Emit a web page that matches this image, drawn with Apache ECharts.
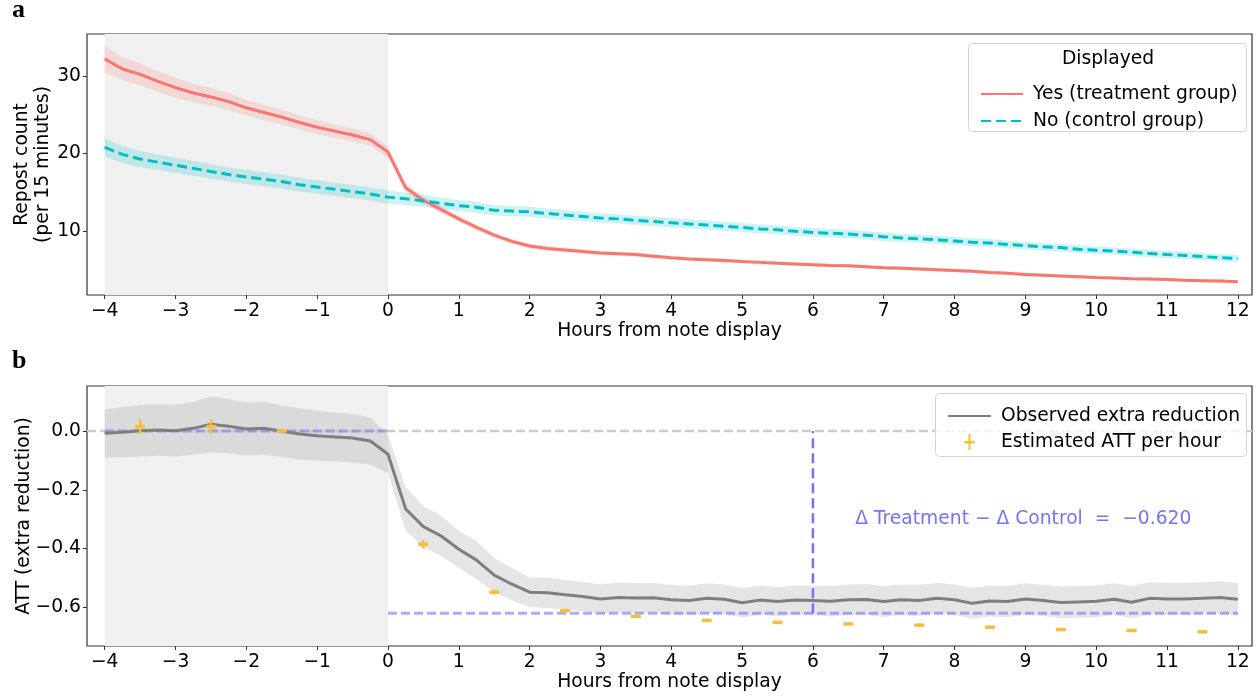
<!DOCTYPE html>
<html><head><meta charset="utf-8">
<script src="https://cdn.jsdelivr.net/npm/echarts@6/dist/echarts.min.js"></script>
<style>html,body{margin:0;padding:0;background:#fff}#c{width:1259px;height:696px}</style>
</head><body><div id="c"></div><script>
// ---------- data ----------
const hours = [-4,-3.75,-3.5,-3.25,-3,-2.75,-2.5,-2.25,-2,-1.75,-1.5,-1.25,-1,-0.75,-0.5,-0.25,
  0,0.25,0.5,0.75,1,1.25,1.5,1.75,2,2.25,2.5,2.75,3,3.25,3.5,3.75,4,4.25,4.5,4.75,5,5.25,5.5,5.75,
  6,6.25,6.5,6.75,7,7.25,7.5,7.75,8,8.25,8.5,8.75,9,9.25,9.5,9.75,10,10.25,10.5,10.75,11,11.25,11.5,11.75,12];
const treatment = [32.2,30.9,30.2,29.3,28.5,27.8,27.3,26.7,25.9,25.3,24.7,24.0,23.4,22.9,22.4,21.8,
  20.2,15.6,14.0,12.8,11.6,10.5,9.5,8.7,8.1,7.8,7.6,7.4,7.2,7.1,7.0,6.8,6.6,6.45,6.35,6.25,6.1,6.0,5.9,5.8,
  5.7,5.6,5.55,5.45,5.3,5.25,5.15,5.05,4.95,4.85,4.7,4.6,4.45,4.35,4.25,4.15,4.05,4.0,3.9,3.85,3.8,3.7,3.65,3.6,3.5];
const treatmentErr = [1.7,1.5,1.4,1.35,1.3,1.2,1.15,1.1,1.0,1.0,0.95,0.9,0.9,0.85,0.85,0.8,
  0.75,0.6,0.5,0.45,0.4,0.38,0.35,0.32,0.3,0.3,0.29,0.28,0.28,0.27,0.27,0.26,0.26,0.25,0.25,0.25,0.24,0.24,0.24,0.23,
  0.23,0.23,0.22,0.22,0.22,0.22,0.21,0.21,0.21,0.21,0.2,0.2,0.2,0.2,0.2,0.2,0.19,0.19,0.19,0.19,0.19,0.19,0.18,0.18,0.18];
const control = [20.8,19.9,19.3,18.9,18.5,18.1,17.7,17.3,17.0,16.7,16.4,16.0,15.7,15.4,15.1,14.8,
  14.4,14.2,13.9,13.6,13.3,13.1,12.7,12.6,12.5,12.3,12.1,11.9,11.7,11.6,11.4,11.25,11.1,10.95,10.8,10.65,10.5,10.3,10.2,10.0,
  9.85,9.75,9.65,9.5,9.3,9.15,9.05,8.9,8.75,8.6,8.5,8.3,8.15,8.0,7.9,7.7,7.55,7.45,7.3,7.15,7.0,6.9,6.75,6.6,6.5];
const controlErr = [1.2,1.1,1.05,1.0,1.0,0.95,0.95,0.9,0.9,0.9,0.88,0.88,0.87,0.86,0.86,0.85,
  0.85,0.8,0.78,0.75,0.72,0.7,0.68,0.66,0.65,0.64,0.63,0.62,0.62,0.61,0.6,0.6,0.6,0.59,0.59,0.58,0.58,0.57,0.57,0.56,
  0.56,0.55,0.55,0.54,0.54,0.53,0.53,0.52,0.52,0.51,0.51,0.5,0.5,0.5,0.49,0.49,0.48,0.48,0.47,0.47,0.46,0.46,0.45,0.45,0.45];
const observedATT = [-0.008,-0.004,0.001,0.003,0.001,0.009,0.023,0.016,0.007,0.009,-0.001,-0.010,-0.016,-0.020,-0.024,-0.034,
  -0.079,-0.265,-0.325,-0.357,-0.402,-0.439,-0.490,-0.521,-0.548,-0.550,-0.557,-0.563,-0.571,-0.566,-0.568,-0.567,
  -0.574,-0.576,-0.569,-0.572,-0.584,-0.575,-0.580,-0.575,-0.576,-0.579,-0.574,-0.573,-0.580,-0.574,-0.576,-0.569,
  -0.574,-0.586,-0.578,-0.580,-0.571,-0.576,-0.583,-0.581,-0.579,-0.572,-0.582,-0.569,-0.571,-0.571,-0.569,-0.566,-0.572];
const observedErr = [0.082,0.085,0.088,0.087,0.088,0.09,0.095,0.092,0.09,0.09,0.088,0.087,0.085,0.083,0.082,0.08,
  0.065,0.074,0.07,0.068,0.062,0.065,0.058,0.055,0.05,0.052,0.05,0.05,0.05,0.051,0.05,0.05,0.05,0.05,0.051,0.05,0.05,0.05,0.05,0.05,
  0.05,0.052,0.052,0.053,0.052,0.052,0.053,0.052,0.052,0.052,0.053,0.053,0.053,0.053,0.054,0.054,0.054,0.054,0.055,0.055,0.055,0.055,0.055,0.055,0.055];
const attHours = [-3.5,-2.5,-1.5,0.5,1.5,2.5,3.5,4.5,5.5,6.5,7.5,8.5,9.5,10.5,11.5];
const attValues = [0.015,0.015,0.0,-0.385,-0.548,-0.611,-0.630,-0.644,-0.651,-0.656,-0.660,-0.667,-0.675,-0.678,-0.683];
const attErr = [0.025,0.025,0.002,0.015,0.008,0.005,0.005,0.004,0.004,0.004,0.004,0.004,0.004,0.004,0.004];
const xTicks = [-4,-3,-2,-1,0,1,2,3,4,5,6,7,8,9,10,11,12];
const yTicksTop = [10,20,30];
const yTicksBottom = [-0.6,-0.4,-0.2,0];
const preStart = -4, preEnd = 0;
const attEstimate = -0.620;
const markHour = 6;
const annotationText = 'Δ Treatment − Δ Control  =  −0.620';
const annotationAt = [8.97, -0.3];

// ---------- style ----------
const RED = '#F8766D', CYAN = '#00BFC4', GRAY = '#7f7f7f', ORANGE = '#F6BE3B', PURPLE = '#7474F4';
const FONT = 'DejaVu Sans';
const FS = 18.7;
const minus = s => String(s).replace('-', '−');

function shade(xi, yi) {
  return { type: 'custom', xAxisIndex: xi, yAxisIndex: yi, z: 0, silent: true, data: [[preStart, 0]],
    renderItem(p, api) {
      const a = api.coord([preStart, 0]), b = api.coord([preEnd, 0]);
      const cs = p.coordSys;
      return { type: 'rect', shape: { x: a[0], y: cs.y, width: b[0] - a[0], height: cs.height }, style: { fill: '#f0f0f0' } };
    } };
}
function band(xi, yi, center, err, color, z) {
  return { type: 'custom', xAxisIndex: xi, yAxisIndex: yi, z, silent: true, data: [[hours[0], center[0]]],
    renderItem(p, api) {
      const up = [], lo = [];
      for (let i = 0; i < hours.length; i++) {
        up.push(api.coord([hours[i], center[i] + err[i]]));
        lo.push(api.coord([hours[i], center[i] - err[i]]));
      }
      return { type: 'polygon', shape: { points: up.concat(lo.reverse()) }, style: { fill: color } };
    } };
}
const pair = arr => hours.map((h, i) => [h, arr[i]]);

const xAxisBase = (gi) => ({
  type: 'value', gridIndex: gi, min: -4.25, max: 12.2,
  name: 'Hours from note display', nameLocation: 'middle', nameGap: 27, nameMoveOverlap: false,
  nameTextStyle: { fontFamily: FONT, fontSize: FS, color: '#000' },
  axisLine: { show: false, onZero: false }, splitLine: { show: false },
  axisTick: { show: true, length: 4, lineStyle: { color: '#333' }, customValues: xTicks },
  axisLabel: { fontFamily: FONT, fontSize: FS, color: '#000', margin: 7, customValues: xTicks, formatter: v => minus(v) }
});
const hiddenSym = { opacity: 0 };

const option = {
  animation: false,
  backgroundColor: '#fff',
  grid: [
    { left: 87, width: 1165, top: 34, height: 261, show: true, borderColor: '#333', borderWidth: 1.2, backgroundColor: 'transparent' },
    { left: 87, width: 1165, top: 386, height: 260, show: true, borderColor: '#333', borderWidth: 1.2, backgroundColor: 'transparent' }
  ],
  xAxis: [xAxisBase(0), xAxisBase(1)],
  yAxis: [
    { type: 'value', gridIndex: 0, min: 1.8, max: 35.4,
      name: 'Repost count\n(per 15 minutes)', nameLocation: 'middle', nameGap: 33, nameMoveOverlap: false,
      nameTextStyle: { fontFamily: FONT, fontSize: FS, color: '#000', lineHeight: 21 },
      axisLine: { show: false, onZero: false }, splitLine: { show: false },
      axisTick: { show: true, length: 4, lineStyle: { color: '#333' }, customValues: yTicksTop },
      axisLabel: { fontFamily: FONT, fontSize: FS, color: '#000', margin: 6, customValues: yTicksTop } },
    { type: 'value', gridIndex: 1, min: -0.731, max: 0.153,
      name: 'ATT (extra reduction)', nameLocation: 'middle', nameGap: 53, nameMoveOverlap: false,
      nameTextStyle: { fontFamily: FONT, fontSize: FS, color: '#000' },
      axisLine: { show: false, onZero: false }, splitLine: { show: false },
      axisTick: { show: true, length: 4, lineStyle: { color: '#333' }, customValues: yTicksBottom },
      axisLabel: { fontFamily: FONT, fontSize: FS, color: '#000', margin: 6, customValues: yTicksBottom,
        formatter: v => minus(Number(v).toFixed(1)) } }
  ],
  legend: [
    { z: 10, left: 975, top: 79, orient: 'vertical', itemWidth: 42, itemHeight: 14, itemGap: 7,
      textStyle: { fontFamily: FONT, fontSize: FS, color: '#000', lineHeight: 20, padding: [0, 0, 0, 5] },
      data: [{ name: 'Yes (treatment group)', itemStyle: hiddenSym }, { name: 'No (control group)', itemStyle: hiddenSym }] },
    { z: 10, left: 942, top: 401, orient: 'vertical', itemWidth: 43, itemHeight: 16, itemGap: 6,
      textStyle: { fontFamily: FONT, fontSize: FS, color: '#000', lineHeight: 20, padding: [0, 0, 0, 5] },
      data: [ { name: 'Observed extra reduction', itemStyle: hiddenSym },
        { name: 'Estimated ATT per hour', icon: 'path://M4,0H6V7H10V9.5H6V16H4V9.5H0V7H4Z', itemStyle: { color: ORANGE } } ] }
  ],
  graphic: [
    { type: 'rect', z: 5, shape: { x: 968.5, y: 43.5, width: 278, height: 88, r: 4 }, style: { fill: 'rgba(255,255,255,0.8)', stroke: '#d3d3d3', lineWidth: 1 } },
    { type: 'text', z: 6, x: 1108, y: 59, style: { text: 'Displayed', font: FS + 'px "' + FONT + '"', fill: '#000', textAlign: 'center', textVerticalAlign: 'middle' } },
    { type: 'rect', z: 5, shape: { x: 935.5, y: 393.5, width: 311, height: 63, r: 4 }, style: { fill: 'rgba(255,255,255,0.8)', stroke: '#d3d3d3', lineWidth: 1 } },
    { type: 'text', z: 6, x: 12, y: 23, style: { text: 'a', font: 'bold 26px "Liberation Serif"', fill: '#000', textVerticalAlign: 'bottom' } },
    { type: 'text', z: 6, x: 12, y: 374, style: { text: 'b', font: 'bold 26px "Liberation Serif"', fill: '#000', textVerticalAlign: 'bottom' } }
  ],
  series: [
    shade(0, 0),
    band(0, 0, treatment, treatmentErr, 'rgba(248,118,109,0.2)', 1),
    band(0, 0, control, controlErr, 'rgba(0,191,196,0.2)', 1),
    { name: 'Yes (treatment group)', type: 'line', xAxisIndex: 0, yAxisIndex: 0, z: 3, symbol: 'none',
      data: pair(treatment), lineStyle: { color: RED, width: 3 }, itemStyle: { color: RED } },
    { name: 'No (control group)', type: 'line', xAxisIndex: 0, yAxisIndex: 0, z: 3, symbol: 'none',
      data: pair(control), lineStyle: { color: CYAN, width: 3, type: [10, 5] }, itemStyle: { color: CYAN } },

    shade(1, 1),
    band(1, 1, observedATT, observedErr, 'rgba(160,160,160,0.28)', 1),
    { type: 'custom', xAxisIndex: 1, yAxisIndex: 1, z: 2, silent: true, data: [[markHour, attEstimate]],
      renderItem(p, api) {
        const cs = p.coordSys;
        const z0 = api.coord([preStart, 0]), z1 = api.coord([preEnd, 0]);
        const e0 = api.coord([preEnd, attEstimate]), e1 = api.coord([12, attEstimate]);
        const v0 = api.coord([markHour, attEstimate]), v1 = api.coord([markHour, 0]);
        return { type: 'group', children: [
          { type: 'line', shape: { x1: cs.x, y1: z0[1], x2: cs.x + cs.width, y2: z0[1] }, style: { stroke: '#cccccc', lineWidth: 2.5, lineDash: [9, 4] } },
          { type: 'line', shape: { x1: z0[0], y1: z0[1], x2: z1[0], y2: z1[1] }, style: { stroke: 'rgba(116,116,244,0.6)', lineWidth: 3, lineDash: [9, 4] } },
          { type: 'line', shape: { x1: e0[0], y1: e0[1], x2: e1[0], y2: e1[1] }, style: { stroke: 'rgba(116,116,244,0.6)', lineWidth: 3, lineDash: [9, 4] } },
          { type: 'line', shape: { x1: v0[0], y1: v0[1], x2: v1[0], y2: v1[1] }, style: { stroke: PURPLE, lineWidth: 2.5, lineDash: [10, 5] } }
        ] };
      } },
    { name: 'Observed extra reduction', type: 'line', xAxisIndex: 1, yAxisIndex: 1, z: 3, symbol: 'none',
      data: pair(observedATT), lineStyle: { color: GRAY, width: 3 }, itemStyle: { color: GRAY } },
    { name: 'Estimated ATT per hour', type: 'custom', xAxisIndex: 1, yAxisIndex: 1, z: 4,
      itemStyle: { color: ORANGE },
      data: attHours.map((h, i) => [h, attValues[i], attErr[i]]),
      encode: { x: 0, y: 1 },
      renderItem(p, api) {
        const x = api.value(0), y = api.value(1), e = api.value(2);
        const c = api.coord([x, y]), t = api.coord([x, y + e]), b = api.coord([x, y - e]);
        return { type: 'group', children: [
          { type: 'line', shape: { x1: c[0], y1: t[1], x2: c[0], y2: b[1] }, style: { stroke: ORANGE, lineWidth: 2.5 } },
          { type: 'rect', shape: { x: c[0] - 5, y: c[1] - 1.75, width: 10, height: 3.5 }, style: { fill: ORANGE } }
        ] };
      } },
    { type: 'custom', xAxisIndex: 1, yAxisIndex: 1, z: 4, silent: true, data: [annotationAt],
      renderItem(p, api) {
        const c = api.coord([api.value(0), api.value(1)]);
        return { type: 'text', x: c[0], y: c[1], style: { text: annotationText, font: FS + 'px "' + FONT + '"', fill: PURPLE, textAlign: 'center', textVerticalAlign: 'middle' } };
      } }
  ]
};
echarts.init(document.getElementById('c')).setOption(option);
</script></body></html>
